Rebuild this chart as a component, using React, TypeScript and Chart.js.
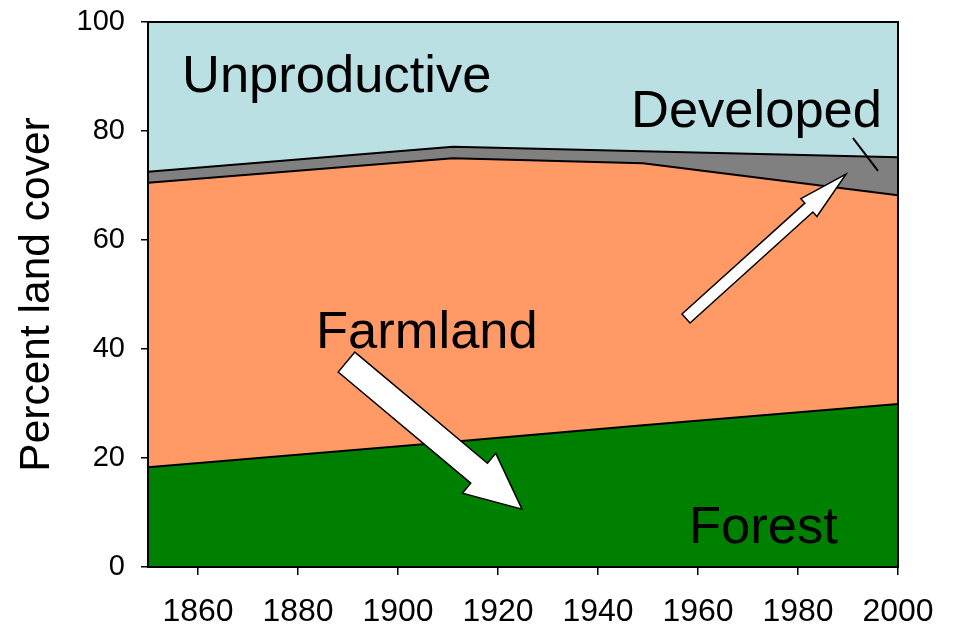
import React, { useEffect, useRef } from "react";
import { Chart, registerables } from "chart.js";

Chart.register(...registerables);

// ---- data (percent of land cover, stacked) ----
const years = [1850, 1911, 1949, 2000];
const forest = [18.3, 23.0, 26.0, 29.9];
const farmland = [52.2, 52.0, 48.1, 38.3];
const developed = [2.0, 2.1, 2.2, 7.0];
const unproductive = [27.5, 22.9, 23.7, 24.8];

const xTickValues = [1860, 1880, 1900, 1920, 1940, 1960, 1980, 2000];
const yTickStep = 20;

// ---- annotations (data coordinates) ----
const labelTexts = ["Unproductive", "Developed", "Farmland", "Forest"];
const labelX = [1856.8, 1946.6, 1883.6, 1958.2];
const labelY = [87.2, 80.7, 40.2, 4.4];

const arrowFrom = [
  [1957.6, 45.6],
  [1889.7, 37.6],
];
const arrowTo = [
  [1989.6, 72.1],
  [1924.8, 10.6],
];
const arrowScale = ["small", "big"];

const leaderFrom = [1991, 78.7];
const leaderTo = [1996, 72.7];

const FONT = "'Liberation Sans', Arial, Helvetica, sans-serif";

function drawArrow(
  ctx: CanvasRenderingContext2D,
  x1: number,
  y1: number,
  x2: number,
  y2: number,
  shaftW: number,
  headW: number,
  headL: number
) {
  const dx = x2 - x1;
  const dy = y2 - y1;
  const len = Math.hypot(dx, dy);
  const ux = dx / len;
  const uy = dy / len;
  const px = -uy;
  const py = ux;
  const bx = x2 - ux * headL;
  const by = y2 - uy * headL;
  const s = shaftW / 2;
  const h = headW / 2;
  ctx.beginPath();
  ctx.moveTo(x1 + px * s, y1 + py * s);
  ctx.lineTo(bx + px * s, by + py * s);
  ctx.lineTo(bx + px * h, by + py * h);
  ctx.lineTo(x2, y2);
  ctx.lineTo(bx - px * h, by - py * h);
  ctx.lineTo(bx - px * s, by - py * s);
  ctx.lineTo(x1 - px * s, y1 - py * s);
  ctx.closePath();
  ctx.fillStyle = "#ffffff";
  ctx.fill();
  ctx.lineWidth = 1.5;
  ctx.strokeStyle = "#000000";
  ctx.lineJoin = "miter";
  ctx.stroke();
}

const overlayPlugin = {
  id: "overlay",
  afterDatasetsDraw(chart: any) {
    const { ctx, chartArea, scales } = chart;
    const xs = scales.x;
    const ys = scales.y;
    ctx.save();
    // plot frame
    ctx.lineWidth = 2;
    ctx.strokeStyle = "#000000";
    ctx.strokeRect(
      chartArea.left,
      chartArea.top,
      chartArea.right - chartArea.left,
      chartArea.bottom - chartArea.top
    );

    // leader line for "Developed"
    ctx.beginPath();
    ctx.lineWidth = 2;
    ctx.moveTo(xs.getPixelForValue(leaderFrom[0]), ys.getPixelForValue(leaderFrom[1]));
    ctx.lineTo(xs.getPixelForValue(leaderTo[0]), ys.getPixelForValue(leaderTo[1]));
    ctx.stroke();

    // arrows
    for (let i = 0; i < arrowFrom.length; i++) {
      const big = arrowScale[i] === "big";
      drawArrow(
        ctx,
        xs.getPixelForValue(arrowFrom[i][0]),
        ys.getPixelForValue(arrowFrom[i][1]),
        xs.getPixelForValue(arrowTo[i][0]),
        ys.getPixelForValue(arrowTo[i][1]),
        big ? 26 : 12,
        big ? 52 : 24,
        big ? 56 : 50
      );
    }

    // labels
    ctx.fillStyle = "#000000";
    ctx.font = `52.5px ${FONT}`;
    ctx.textAlign = "left";
    ctx.textBaseline = "alphabetic";
    for (let i = 0; i < labelTexts.length; i++) {
      ctx.fillText(
        labelTexts[i],
        xs.getPixelForValue(labelX[i]),
        ys.getPixelForValue(labelY[i])
      );
    }
    ctx.restore();
  },
};

export default function App() {
  const canvasRef = useRef<HTMLCanvasElement | null>(null);

  useEffect(() => {
    const canvas = canvasRef.current;
    if (!canvas) return;
    const toPts = (vals: number[]) => years.map((y, i) => ({ x: y, y: vals[i] }));
    const common = {
      borderColor: "#000000",
      borderWidth: 2,
      pointRadius: 0,
      pointHoverRadius: 0,
      tension: 0,
    };
    const chart = new Chart(canvas, {
      type: "line",
      data: {
        datasets: [
          { ...common, label: "Forest", data: toPts(forest), backgroundColor: "#008000", fill: "origin" },
          { ...common, label: "Farmland", data: toPts(farmland), backgroundColor: "#FF9966", fill: "-1" },
          { ...common, label: "Developed", data: toPts(developed), backgroundColor: "#808080", fill: "-1" },
          { ...common, label: "Unproductive", data: toPts(unproductive), backgroundColor: "#BBE0E3", fill: "-1" },
        ],
      },
      options: {
        responsive: false,
        animation: false,
        events: [],
        layout: { padding: { top: 22, right: 61, left: 0, bottom: 0 } },
        plugins: {
          legend: { display: false },
          tooltip: { enabled: false },
          title: { display: false },
        },
        scales: {
          x: {
            type: "linear",
            min: 1850,
            max: 2000,
            afterBuildTicks: (s: any) => {
              s.ticks = xTickValues.map((v) => ({ value: v }));
            },
            afterFit: (s: any) => {
              s.height = 61;
              s.paddingLeft = 0;
              s.paddingRight = 0;
            },
            border: { display: false },
            grid: {
              drawOnChartArea: false,
              drawTicks: true,
              tickLength: 8,
              color: "#000000",
              lineWidth: 1.5,
            },
            ticks: {
              color: "#000000",
              font: { family: FONT, size: 32 },
              padding: 18,
              maxRotation: 0,
              autoSkip: false,
              callback: (v: any) => String(v),
            },
          },
          y: {
            stacked: true,
            min: 0,
            max: 100,
            afterFit: (s: any) => {
              s.width = 148;
              s.paddingTop = 0;
              s.paddingBottom = 0;
            },
            border: { display: false },
            grid: {
              drawOnChartArea: false,
              drawTicks: true,
              tickLength: 7,
              color: "#000000",
              lineWidth: 1.5,
            },
            ticks: {
              stepSize: yTickStep,
              color: "#000000",
              font: { family: FONT, size: 29 },
              padding: 16,
            },
            title: {
              display: true,
              text: "Percent land cover",
              color: "#000000",
              font: { family: FONT, size: 42.5 },
              padding: { top: 12, bottom: 0 },
            },
          },
        },
      },
      plugins: [overlayPlugin],
    } as any);
    return () => chart.destroy();
  }, []);

  return (
    <div style={{ position: "fixed", left: 0, top: 0, width: 959, height: 628, background: "#ffffff" }}>
      <canvas ref={canvasRef} width={959} height={628} style={{ display: "block" }} />
    </div>
  );
}
